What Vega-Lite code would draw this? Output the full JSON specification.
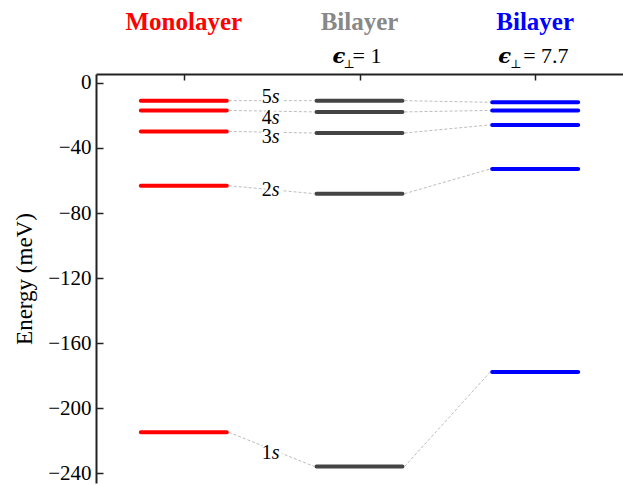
{
  "$schema": "https://vega.github.io/schema/vega-lite/v6.json",
  "width": 527,
  "height": 409,
  "autosize": {"type": "none"},
  "padding": {"left": 96, "top": 74, "right": 0, "bottom": 2},
  "background": "white",
  "config": {
    "view": {"stroke": null},
    "font": "Liberation Serif",
    "axis": {"labelFont": "Liberation Serif", "titleFont": "Liberation Serif", "labelFontSize": 21, "titleFontSize": 23, "labelColor": "black", "titleColor": "black", "titleFontWeight": "normal", "labelFontWeight": "normal", "grid": false, "domainColor": "#222222", "domainWidth": 2, "tickColor": "#222222", "tickWidth": 1.5}
  },
  "datasets": {
    "levels": [
      {"system": "mono", "col": 0, "state": "5s", "E": -10.9},
      {"system": "mono", "col": 0, "state": "4s", "E": -16.9},
      {"system": "mono", "col": 0, "state": "3s", "E": -29.8},
      {"system": "mono", "col": 0, "state": "2s", "E": -63.2},
      {"system": "mono", "col": 0, "state": "1s", "E": -214.8},
      {"system": "bi1", "col": 1, "state": "5s", "E": -10.9},
      {"system": "bi1", "col": 1, "state": "4s", "E": -17.8},
      {"system": "bi1", "col": 1, "state": "3s", "E": -30.8},
      {"system": "bi1", "col": 1, "state": "2s", "E": -68.1},
      {"system": "bi1", "col": 1, "state": "1s", "E": -235.9},
      {"system": "bi77", "col": 2, "state": "5s", "E": -11.9},
      {"system": "bi77", "col": 2, "state": "4s", "E": -16.9},
      {"system": "bi77", "col": 2, "state": "3s", "E": -25.8},
      {"system": "bi77", "col": 2, "state": "2s", "E": -52.9},
      {"system": "bi77", "col": 2, "state": "1s", "E": -177.8}
    ],
    "labels": [
      {"state": "5s", "n": "5", "E": -8.7},
      {"state": "4s", "n": "4", "E": -21.3},
      {"state": "3s", "n": "3", "E": -33.0},
      {"state": "2s", "n": "2", "E": -65.9},
      {"state": "1s", "n": "1", "E": -227.6}
    ],
    "headers": [
      {"system": "mono", "col": 0, "name": "Monolayer"},
      {"system": "bi1", "col": 1, "name": "Bilayer", "eps": "= 1"},
      {"system": "bi77", "col": 2, "name": "Bilayer", "eps": "= 7.7"}
    ]
  },
  "resolve": {"scale": {"color": "independent"}},
  "layer": [
    {
      "data": {"name": "levels"},
      "mark": {"type": "tick", "orient": "horizontal", "size": 90, "thickness": 4, "cornerRadius": 2, "opacity": 1},
      "encoding": {
        "x": {
          "field": "col", "type": "quantitative",
          "scale": {"domain": [-0.5, 2.5], "nice": false, "zero": false},
          "axis": {"orient": "top", "values": [0, 1, 2], "labels": false, "title": null, "tickSize": -6, "grid": false}
        },
        "y": {
          "field": "E", "type": "quantitative",
          "scale": {"domain": [-246, 5.5], "nice": false, "zero": false},
          "axis": {
            "orient": "left", "title": "Energy (meV)", "titlePadding": 11,
            "values": [0, -10, -20, -30, -40, -50, -60, -70, -80, -90, -100, -110, -120, -130, -140, -150, -160, -170, -180, -190, -200, -210, -220, -230, -240],
            "labelExpr": "datum.value % 40 === 0 ? datum.label : ''",
            "labelPadding": 12, "labelOverlap": false, "labelFlush": false,
            "tickSize": {"condition": {"test": "datum.value % 40 === 0", "value": -7}, "value": -4}
          }
        },
        "color": {"field": "system", "type": "nominal", "scale": {"domain": ["mono", "bi1", "bi77"], "range": ["#ff0000", "#444444", "#0000ff"]}, "legend": null}
      }
    },
    {
      "data": {"name": "levels"},
      "transform": [{"pivot": "system", "value": "E", "groupby": ["state"]}],
      "layer": [
        {
          "mark": {"type": "rule", "color": "#bdbdbd", "strokeDash": [3, 2], "strokeWidth": 1, "xOffset": 45, "x2Offset": -45},
          "encoding": {
            "x": {"datum": 0, "type": "quantitative"},
            "x2": {"datum": 1},
            "y": {"field": "mono", "type": "quantitative"},
            "y2": {"field": "bi1"}
          }
        },
        {
          "mark": {"type": "rule", "color": "#bdbdbd", "strokeDash": [3, 2], "strokeWidth": 1, "xOffset": 45, "x2Offset": -45},
          "encoding": {
            "x": {"datum": 1, "type": "quantitative"},
            "x2": {"datum": 2},
            "y": {"field": "bi1", "type": "quantitative"},
            "y2": {"field": "bi77"}
          }
        }
      ]
    },
    {
      "data": {"name": "labels"},
      "encoding": {
        "x": {"datum": 0.5, "type": "quantitative"},
        "y": {"field": "E", "type": "quantitative"}
      },
      "layer": [
        {
          "mark": {"type": "text", "font": "Liberation Serif", "fontSize": 20, "align": "center", "baseline": "middle", "color": "white", "stroke": "white", "strokeWidth": 5},
          "encoding": {"text": {"field": "state"}}
        },
        {
          "mark": {"type": "text", "font": "Liberation Serif", "fontSize": 20, "align": "right", "baseline": "middle", "color": "black"},
          "encoding": {"text": {"field": "n"}}
        },
        {
          "mark": {"type": "text", "font": "Liberation Serif", "fontSize": 20, "fontStyle": "italic", "align": "left", "baseline": "middle", "color": "black", "text": "s"}
        }
      ]
    },
    {
      "data": {"name": "headers"},
      "layer": [
        {
          "mark": {"type": "text", "font": "Liberation Serif", "fontSize": 25, "fontWeight": "bold", "align": "center", "baseline": "alphabetic"},
          "encoding": {
            "x": {"field": "col", "type": "quantitative"},
            "y": {"datum": 32.8, "type": "quantitative"},
            "text": {"field": "name"},
            "color": {"field": "system", "type": "nominal", "scale": {"domain": ["mono", "bi1", "bi77"], "range": ["#ff0000", "#888888", "#0000ff"]}, "legend": null}
          }
        },
        {
          "transform": [{"filter": "datum.col === 1"}],
          "encoding": {
            "x": {"field": "col", "type": "quantitative"},
            "y": {"datum": 12.3, "type": "quantitative"}
          },
          "layer": [
            {"mark": {"type": "text", "font": "DejaVu Serif", "fontSize": 21, "fontWeight": "bold", "fontStyle": "italic", "align": "left", "baseline": "alphabetic", "color": "black", "text": "ϵ", "dx": -27}},
            {"mark": {"type": "text", "font": "DejaVu Serif", "fontSize": 12, "align": "left", "baseline": "alphabetic", "color": "black", "text": "⊥", "dx": -16, "dy": 5}},
            {"mark": {"type": "text", "font": "Liberation Serif", "fontSize": 22, "align": "left", "baseline": "alphabetic", "color": "black", "dx": -7}, "encoding": {"text": {"field": "eps"}}}
          ]
        },
        {
          "transform": [{"filter": "datum.col === 2"}],
          "encoding": {
            "x": {"field": "col", "type": "quantitative"},
            "y": {"datum": 12.3, "type": "quantitative"}
          },
          "layer": [
            {"mark": {"type": "text", "font": "DejaVu Serif", "fontSize": 21, "fontWeight": "bold", "fontStyle": "italic", "align": "left", "baseline": "alphabetic", "color": "black", "text": "ϵ", "dx": -37}},
            {"mark": {"type": "text", "font": "DejaVu Serif", "fontSize": 12, "align": "left", "baseline": "alphabetic", "color": "black", "text": "⊥", "dx": -25, "dy": 5}},
            {"mark": {"type": "text", "font": "Liberation Serif", "fontSize": 22, "align": "left", "baseline": "alphabetic", "color": "black", "dx": -12}, "encoding": {"text": {"field": "eps"}}}
          ]
        }
      ]
    }
  ]
}
